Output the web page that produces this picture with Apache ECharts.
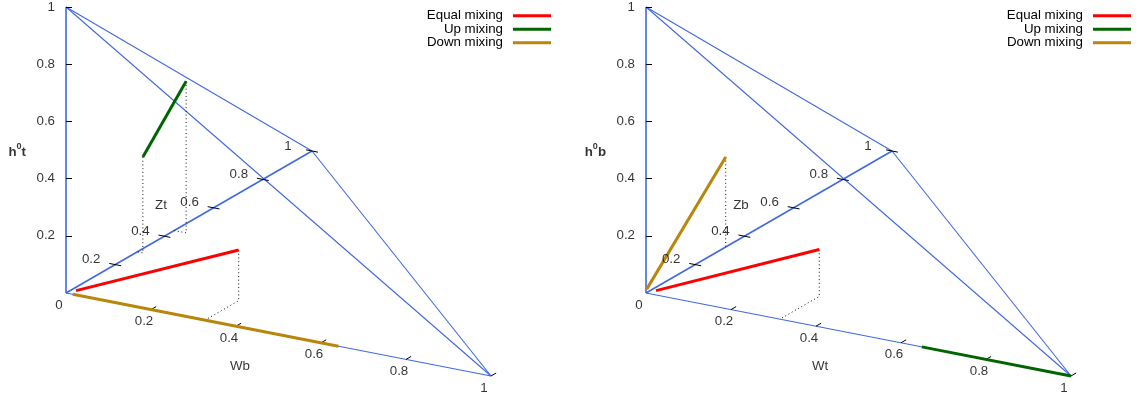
<!DOCTYPE html>
<html><head><meta charset="utf-8">
<script src="https://cdn.jsdelivr.net/npm/echarts@6/dist/echarts.min.js"></script>
<style>html,body{margin:0;padding:0;background:#fff}#c{width:1141px;height:396px}</style>
</head><body><div id="c"></div>
<script>
// ---------- data ----------
const tickValues = [0, 0.2, 0.4, 0.6, 0.8, 1];
const tickLabels = ['0', '0.2', '0.4', '0.6', '0.8', '1'];
const seriesNames = ['Equal mixing', 'Up mixing', 'Down mixing'];
const xTitles = ['Wb', 'Wt'];
const yTitles = ['Zt', 'Zb'];
const zSubscripts = ['t', 'b'];
// curves as [x, y, z] = [W, Z, h0]
const equalLeft  = [[0.019, 0.008, 0.010], [0.327, 0.137, 0.177]];
const upLeft     = [[0.013, 0.290, 0.335], [0.028, 0.440, 0.530]];
const downLeft   = [[0.016, 0, 0], [0.641, 0, 0]];
const equalRight = [[0.019, 0.008, 0.010], [0.315, 0.160, 0.164]];
const upRight    = [[0.649, 0, 0], [1, 0, 0]];
const downRight  = [[0, 0.003, 0.012], [0, 0.324, 0.315]];

// ---------- styling / projection ----------
const colors = ['#ff0000', '#006400', '#b8860b'];
const BLUE = '#4169e1';
const FONT = 'Liberation Sans, Arial, sans-serif';
const FS = 13.3;
const S = 286;                       // px per unit along the vertical axis
const EX = [425 / S, -83 / S];       // projected unit vector of x
const EY = [246 / S, 142 / S];       // projected unit vector of y
const OX = 66, OY = 293, GW = 560, GH = 396, PANEL_DX = 580;
function P(p) { return [p[0] * EX[0] + p[1] * EY[0], p[2] + p[0] * EX[1] + p[1] * EY[1]]; }

const panels = [
  {curves: [equalLeft, upLeft, downLeft],
   drops: [{c: 0, i: 1, to: 'y'}, {c: 1, i: 0, to: 'x'}, {c: 1, i: 1, to: 'x'}]},
  {curves: [equalRight, upRight, downRight],
   drops: [{c: 0, i: 1, to: 'y'}, {c: 2, i: 1, to: 'x'}]}
];

const grid = [], xAxis = [], yAxis = [], series = [];
const edges = [
  [[0,0,0],[0,0,1], 1.6], [[0,0,0],[0,1,0], 1.6], [[0,0,0],[1,0,0], 1.1],
  [[0,0,1],[0,1,0], 1.1], [[0,0,1],[1,0,0], 1.1], [[0,1,0],[1,0,0], 1.1]
];
const labelBase = {fontFamily: FONT, fontSize: FS, color: '#000'};

panels.forEach((pn, k) => {
  grid.push({left: PANEL_DX * k, top: 0, width: GW, height: GH, containLabel: false});
  xAxis.push({type: 'value', gridIndex: k, min: -OX / S, max: (GW - OX) / S, show: false});
  yAxis.push({type: 'value', gridIndex: k, min: -(GH - OY) / S, max: OY / S, show: false});
  const ax = {xAxisIndex: k, yAxisIndex: k};

  // frame
  series.push(Object.assign({type: 'lines', coordinateSystem: 'cartesian2d', silent: true, z: 1,
    data: edges.map(e => ({coords: [P(e[0]), P(e[1])], lineStyle: {width: e[2]}})),
    lineStyle: {color: BLUE, opacity: 1}}, ax));

  // tick marks
  const tk = [];
  tickValues.forEach(t => {
    if (t === 0) return;
    const pz = P([0, 0, t]);
    tk.push({coords: [pz, [pz[0] + 6 / S, pz[1]]]});
    tk.push({coords: [P([t, 0, 0]), P([t, 0.021, 0])]});
    tk.push({coords: [P([-0.014, t, 0]), P([0.014, t, 0])]});
  });
  series.push(Object.assign({type: 'lines', coordinateSystem: 'cartesian2d', silent: true, z: 2,
    data: tk, lineStyle: {color: '#000', width: 1, opacity: 1}}, ax));

  // drop lines
  const dr = pn.drops.map(d => {
    const p = pn.curves[d.c][d.i];
    const floor = [p[0], p[1], 0];
    const axisPt = d.to === 'y' ? [p[0], 0, 0] : [0, p[1], 0];
    return {coords: [P(p), P(floor), P(axisPt)]};
  });
  series.push(Object.assign({type: 'lines', coordinateSystem: 'cartesian2d', polyline: true, silent: true, z: 2,
    data: dr, lineStyle: {color: '#111', width: 1, type: [1, 2.7], opacity: 1}}, ax));

  // curves
  pn.curves.forEach((c, j) => {
    series.push(Object.assign({type: 'line', name: seriesNames[j], data: c.map(P), showSymbol: false,
      symbol: 'none', z: 3, silent: true, color: colors[j],
      lineStyle: {color: colors[j], width: 3}, itemStyle: {color: colors[j]}}, ax));
  });

  // labels
  const lab = [];
  tickValues.forEach((t, i) => {
    if (t !== 0) lab.push({value: P([0, 0, t]), label: {formatter: tickLabels[i], position: 'left', distance: 11}});
    lab.push({value: P([t, 0, 0]), label: {formatter: tickLabels[i], position: 'inside', offset: [-7, 12]}});
    if (t !== 0) lab.push({value: P([0, t, 0]), label: {formatter: tickLabels[i], position: 'inside', offset: [-24, -5]}});
  });
  lab.push({value: P([0.5, 0, 0]), label: {formatter: xTitles[k], position: 'inside', offset: [-38.5, 32]}});
  lab.push({value: P([0, 0.5, 0]), label: {formatter: yTitles[k], position: 'inside', offset: [-28, -17]}});
  lab.push({value: P([0, 0, 0.5]), label: {formatter: '{a|h}{s|0}{a|' + zSubscripts[k] + '}', position: 'left', distance: 40,
    rich: {a: {fontFamily: FONT, fontSize: FS, fontWeight: 'bold', color: '#000', lineHeight: 16, padding: [4, 0, 0, 0]},
           s: {fontFamily: FONT, fontSize: 9, fontWeight: 'bold', color: '#000', lineHeight: 16, padding: [0, 0, 6, 0]}}}});
  series.push(Object.assign({type: 'scatter', symbolSize: 0, silent: true, z: 4, data: lab,
    label: Object.assign({show: true}, labelBase)}, ax));
});

const legendBase = {data: seriesNames, orient: 'vertical', align: 'right', top: 4, itemWidth: 38, itemHeight: 3,
  icon: 'rect', itemGap: 0, selectedMode: false,
  textStyle: {fontFamily: FONT, fontSize: FS, color: '#000', lineHeight: 13.5, padding: [0, 5, 0, 0]}};
const chart = echarts.init(document.getElementById('c'), null, {renderer: 'canvas'});
chart.setOption({
  animation: false,
  backgroundColor: '#fff',
  grid, xAxis, yAxis, series,
  legend: [Object.assign({right: 585}, legendBase), Object.assign({right: 5}, legendBase)]
});
</script></body></html>
